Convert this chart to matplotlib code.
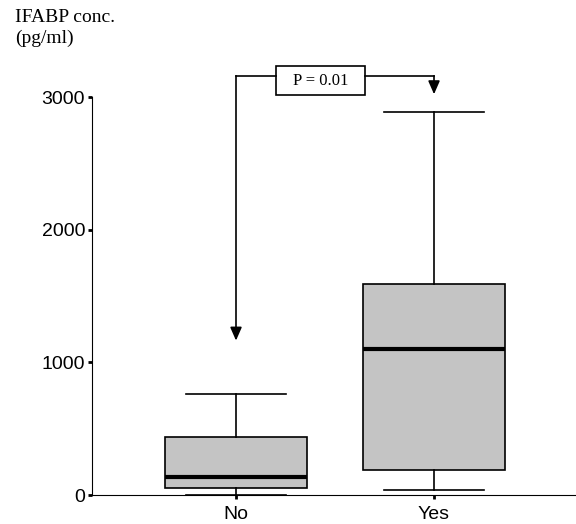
import matplotlib.pyplot as plt
from matplotlib.patches import Rectangle

# box statistics (pg/ml)
groups = ['No', 'Yes']
whislo = [0, 38]
q1 = [53, 188]
med = [135, 1098]
q3 = [436, 1594]
whishi = [759, 2887]
yticks = [0, 1000, 2000, 3000]
p_text = 'P = 0.01'

fig = plt.figure(figsize=(5.76, 5.24), dpi=100)
ax = fig.add_axes([92/576, 29/524, 1 - 92/576, 398/524])

stats = []
for i in range(len(groups)):
    stats.append(dict(label=groups[i], whislo=whislo[i], q1=q1[i], med=med[i],
                      q3=q3[i], whishi=whishi[i], fliers=[]))

ax.bxp(stats, positions=[1, 2], widths=0.717, patch_artist=True,
       showfliers=False, capwidths=0.505,
       boxprops=dict(facecolor='#c4c4c4', edgecolor='black', linewidth=1.2),
       medianprops=dict(color='black', linewidth=3),
       whiskerprops=dict(color='black', linewidth=1.2),
       capprops=dict(color='black', linewidth=1.2))

ax.set_xlim(0.2727, 2.717)
ax.set_ylim(0, 3000)
ax.set_yticks(yticks)
ax.set_xticks([1, 2])
ax.set_xticklabels(groups)
ax.spines['top'].set_visible(False)
ax.spines['right'].set_visible(False)
ax.tick_params(labelsize=14, length=3, width=2, pad=2)
ax.tick_params(axis='x', pad=5)
for lab in ax.get_xticklabels() + ax.get_yticklabels():
    lab.set_family('Liberation Sans')

# y label at the top left
fig.text(15/576, 1 - 9/524, 'IFABP conc.\n(pg/ml)', family='Liberation Serif',
         fontsize=14, va='top', ha='left', linespacing=1.3)

# significance bracket with arrows
top = 3158
ax.plot([1, 1], [top, 1240], color='black', lw=1.2, clip_on=False)
ax.plot([1, 1.2], [top, top], color='black', lw=1.2, clip_on=False)
ax.plot([1.65, 2.0], [top, top], color='black', lw=1.2, clip_on=False)
ax.plot([2, 2], [top, 3100], color='black', lw=1.2, clip_on=False)
ax.annotate('', xy=(1, 1143), xytext=(1, 1240),
            arrowprops=dict(arrowstyle='-|>,head_width=0.35,head_length=0.8',
                            color='black', lw=1.2), annotation_clip=False)
ax.annotate('', xy=(2, 3000), xytext=(2, 3110),
            arrowprops=dict(arrowstyle='-|>,head_width=0.35,head_length=0.8',
                            color='black', lw=1.2), annotation_clip=False)
ax.add_patch(Rectangle((1.202, 3015), 0.45, 218, facecolor='white',
                       edgecolor='black', linewidth=1.2, clip_on=False))
ax.text(1.427, 3124, p_text, family='Liberation Serif', fontsize=12,
        ha='center', va='center', clip_on=False)

fig.savefig('out.png', dpi=100)
